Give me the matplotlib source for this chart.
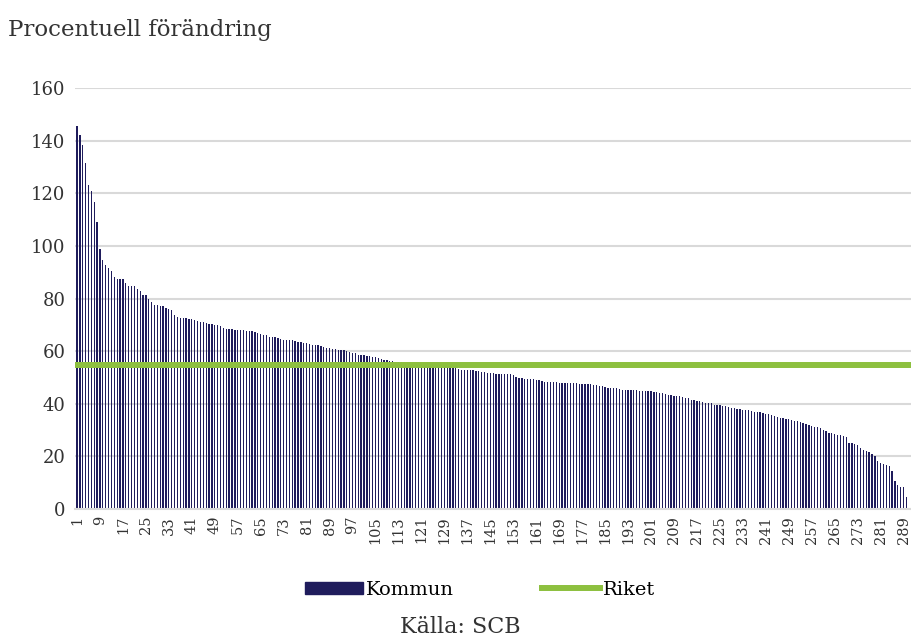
import matplotlib.pyplot as plt
import matplotlib.patches as mpatches
import matplotlib.lines as mlines
import numpy as np

plt.rcParams['font.family'] = ['DejaVu Serif']

# förändring per kommun (sorterad), procent
kommun = [
    145.6, 142.3, 138.5, 131.5, 123.2, 120.8, 116.6, 109.0, 98.9, 94.8,
    92.7, 91.5, 90.6, 88.2, 87.3, 87.3, 87.3, 86.0, 84.6, 84.6,
    84.6, 83.7, 82.9, 81.2, 81.2, 79.8, 78.7, 77.5, 77.4, 77.3,
    77.1, 76.5, 76.1, 75.5, 73.6, 73.0, 72.4, 72.4, 72.4, 72.3,
    72.2, 71.7, 71.4, 71.2, 71.0, 70.7, 70.3, 70.3, 70.0,
    70.0, 69.4, 68.7, 68.5, 68.5, 68.4, 68.2, 68.1, 68.0, 67.9,
    67.7, 67.6, 67.5, 67.2, 67.0, 66.5, 66.2, 66.0, 65.4, 65.3,
    65.2, 64.8, 64.7, 64.4, 64.2, 64.2, 64.1, 63.8, 63.5, 63.5,
    63.2, 62.9, 62.7, 62.5, 62.4, 62.3, 61.9, 61.5, 61.3, 61.1,
    60.9, 60.9, 60.6, 60.4, 60.3, 60.0, 59.6, 59.2,
    59.1, 58.7, 58.6, 58.4, 58.1, 58.0, 57.7, 57.6, 57.2, 57.0,
    56.8, 56.6, 56.3, 56.2, 55.9, 55.8, 55.7, 55.6, 55.5, 55.4,
    55.3, 55.2, 55.1, 55.0, 54.9, 54.8, 54.7, 54.6, 54.5, 54.4,
    54.3, 54.1, 54.0, 53.9, 53.7, 53.5, 53.2, 52.9, 52.9, 52.8,
    52.8, 52.8, 52.6, 52.4, 52.1, 51.9, 51.8, 51.6, 51.6,
    51.4, 51.4, 51.4, 51.3, 51.2, 51.2, 50.9, 50.1, 49.8, 49.6,
    49.5, 49.4, 49.4, 49.3, 49.1, 48.9, 48.5, 48.4, 48.4, 48.2,
    48.1, 48.1, 48.0, 48.0, 48.0, 48.0, 47.9, 47.9, 47.7, 47.6,
    47.4, 47.4, 47.4, 47.4, 47.2, 47.0, 46.8, 46.6, 46.2, 46.1,
    46.1, 46.0, 45.8, 45.6, 45.4, 45.3, 45.2, 45.1,
    45.2, 45.1, 44.9, 44.8, 44.7, 44.7, 44.7, 44.6, 44.3,
    44.2, 44.1, 43.8, 43.3, 43.2, 43.0, 42.9, 42.8, 42.5, 42.3,
    42.0, 41.6, 41.4, 41.1, 41.0, 40.5, 40.4, 40.4, 40.3, 39.7,
    39.5, 39.4, 39.1, 39.0, 38.6, 38.4, 38.2, 38.1, 38.0, 37.8,
    37.7, 37.7, 37.1, 37.0, 36.8, 36.7, 36.3, 36.2, 36.1, 35.9,
    35.2, 34.8, 34.7, 34.6, 34.3, 34.1, 33.8, 33.6, 33.3, 33.1,
    32.7, 32.3, 31.9, 31.7, 31.3, 31.0, 30.8, 30.1, 29.5, 29.0,
    28.8, 28.5, 28.2, 28.0, 27.7, 27.5, 25.2, 24.9, 24.6, 24.3,
    23.2, 22.6, 22.2, 21.5, 20.9, 20.3, 18.4, 17.3, 17.1, 16.7,
    16.3, 14.6, 10.7, 9.2, 8.5, 8.2, 4.4,
]
riket = 54.9
y_ticks = [0, 20, 40, 60, 80, 100, 120, 140, 160]

navy = '#1f1c5c'
green = '#8dc03f'

W, H = 911, 640
fig = plt.figure(figsize=(W / 100, H / 100), dpi=100)
ax = fig.add_axes([75 / W, 1 - 509 / H, 836 / W, 421 / H])

x = np.arange(1, len(kommun) + 1)
ax.bar(x, kommun, width=0.45, color=navy, zorder=2)
ax.axhline(riket, color=green, linewidth=4.3, zorder=3)

ax.set_xlim(0.3, 0.3 + 836 / 2.87)
ax.set_ylim(0, 160)
ax.set_yticks(y_ticks)
ax.set_yticklabels([str(v) for v in y_ticks], fontsize=13, color='#333333')
ax.yaxis.grid(True, color='#d9d9d9', linewidth=1.5, zorder=0)
ax.set_axisbelow(True)

xt = x[::8]
ax.set_xticks(xt)
ax.set_xticklabels([str(v) for v in xt], rotation=90, fontsize=10.5, color='#333333')
ax.tick_params(axis='both', length=0)
ax.tick_params(axis='y', pad=7)
ax.tick_params(axis='x', pad=5)

for s in ['top', 'right', 'left']:
    ax.spines[s].set_visible(False)
ax.spines['bottom'].set_color('#d9d9d9')
ax.spines['bottom'].set_linewidth(1.5)

fig.text(8 / W, 1 - 30 / H, 'Procentuell förändring', fontsize=16.5, color='#333333',
         va='center', ha='left')

h1 = mpatches.Patch(color=navy, label='Kommun')
h2 = mlines.Line2D([], [], color=green, linewidth=4.3, label='Riket')
fig.legend(handles=[h1, h2], loc='center', bbox_to_anchor=(480 / W, 1 - 590 / H), ncol=2,
           frameon=False, fontsize=14, handlelength=3.0, handleheight=0.6,
           handletextpad=0.15, columnspacing=4.5)

fig.text(460 / W, 1 - 627 / H, 'Källa: SCB', fontsize=16, color='#333333',
         ha='center', va='center')

fig.savefig('out.png', dpi=100)
